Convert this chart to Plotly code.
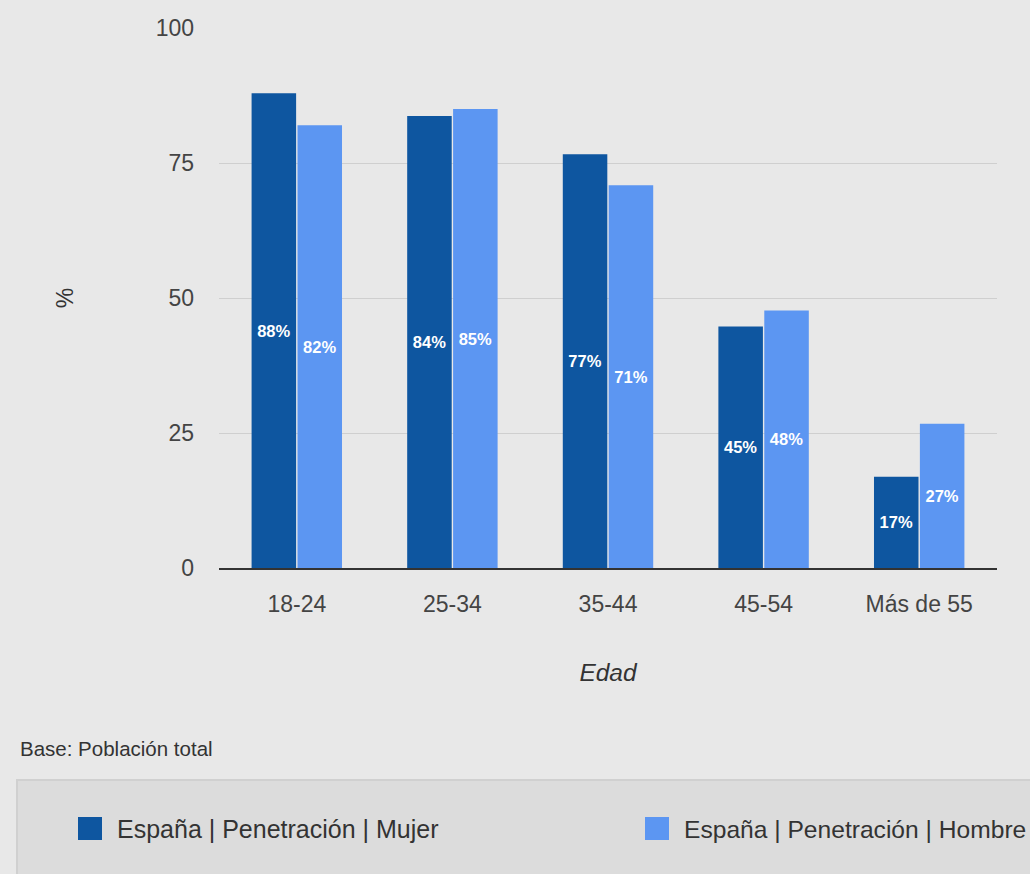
import plotly.graph_objects as go

categories = ["18-24", "25-34", "35-44", "45-54", "Más de 55"]
mujer = [87.9, 83.7, 76.6, 44.7, 16.9]
hombre = [82.0, 85.0, 70.9, 47.7, 26.7]
series_names = ["España | Penetración | Mujer", "España | Penetración | Hombre"]
y_ticks = [0, 25, 50, 75, 100]

DARK = "#0e56a0"
LIGHT = "#5c96f2"
BG = "#e8e8e8"
FONT = "Arial, 'Liberation Sans', sans-serif"

W, H = 1030, 874
L, R, T, B = 219, 33, 28, 306
PW, PH = W - L - R, H - T - B


def px(x):
    return (x - L) / PW


def py(y):
    return (H - B - y) / PH


fig = go.Figure()
for name, vals, col in [(series_names[0], mujer, DARK), (series_names[1], hombre, LIGHT)]:
    fig.add_trace(go.Bar(
        x=categories, y=vals, name=name,
        marker=dict(color=col, line=dict(width=0)),
        texttemplate="%{y:.0f}%", textposition="inside",
        insidetextanchor="middle", textangle=0, constraintext="none",
        textfont=dict(family=FONT, size=16.5, color="white", weight="bold"),
        showlegend=False,
    ))

shapes = [
    dict(type="rect", xref="paper", yref="paper",
         x0=px(17), x1=px(1040), y0=py(780), y1=py(890),
         fillcolor="#dcdcdc", line=dict(color="#d0d0d0", width=2), layer="below"),
    dict(type="rect", xref="paper", yref="paper",
         x0=px(78), x1=px(102), y0=py(840), y1=py(817),
         fillcolor=DARK, line=dict(width=0)),
    dict(type="rect", xref="paper", yref="paper",
         x0=px(645), x1=px(669), y0=py(840), y1=py(817),
         fillcolor=LIGHT, line=dict(width=0)),
]

annotations = [
    dict(text="Base: Población total", xref="paper", yref="paper",
         x=px(18), y=py(748), xanchor="left", yanchor="middle", showarrow=False,
         font=dict(family=FONT, size=20.5, color="#333")),
    dict(text=series_names[0], xref="paper", yref="paper",
         x=px(115), y=py(829), xanchor="left", yanchor="middle", showarrow=False,
         font=dict(family=FONT, size=25, color="#333")),
    dict(text=series_names[1], xref="paper", yref="paper",
         x=px(682), y=py(829), xanchor="left", yanchor="middle", showarrow=False,
         font=dict(family=FONT, size=24.6, color="#333")),
]

fig.update_layout(
    width=W, height=H,
    margin=dict(l=L, r=R, t=T, b=B, autoexpand=False),
    paper_bgcolor=BG, plot_bgcolor=BG,
    barmode="group", bargap=0.41, bargroupgap=0.03,
    font=dict(family=FONT, color="#444"),
    shapes=shapes, annotations=annotations,
    uniformtext=dict(mode=False),
)
fig.update_xaxes(
    showgrid=False, showline=True, linecolor="#333", linewidth=2,
    ticks="", tickfont=dict(size=23, color="#444"), ticklabelstandoff=14,
    title=dict(text="<i>Edad</i>", font=dict(size=24.5, color="#333"), standoff=48),
    automargin=False,
)
fig.update_yaxes(
    range=[0, 100], tickvals=y_ticks, showgrid=True, gridcolor="#cfcfcf", gridwidth=1,
    zeroline=False, showline=False, ticks="",
    tickfont=dict(size=23, color="#444"), ticklabelstandoff=24,
    title=dict(text="%", font=dict(size=23, color="#333"), standoff=75),
    automargin=False,
)

fig.write_html("out.html")
